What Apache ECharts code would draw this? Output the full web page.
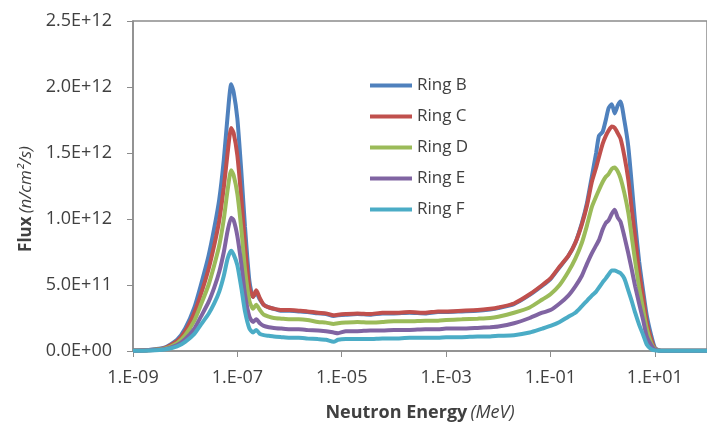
<!DOCTYPE html>
<html>
<head>
<meta charset="utf-8">
<script src="https://cdn.jsdelivr.net/npm/echarts@6/dist/echarts.min.js"></script>
<style>
html,body{margin:0;padding:0;background:#fff;}
#chart{width:707px;height:428px;}
</style>
</head>
<body>
<div id="chart"></div>
<script>
// Neutron energy (MeV)
const energies = [
  1e-9, 2e-9, 4e-9, 7e-9, 1e-8, 1.5e-8, 2e-8, 2.8e-8, 3.6e-8, 4.5e-8,
  5.5e-8, 6.5e-8, 7.6e-8, 8.5e-8, 1e-7, 1.2e-7, 1.4e-7, 1.7e-7, 2e-7, 2.3e-7,
  2.7e-7, 3.2e-7, 4e-7, 5e-7, 7e-7, 1e-6, 1.5e-6, 2.2e-6, 3.5e-6, 5e-6,
  7e-6, 8.5e-6, 1.2e-5, 2e-5, 3.5e-5, 6e-5, 1e-4, 2e-4, 4e-4, 7e-4,
  1e-3, 2e-3, 4e-3, 7e-3, 1e-2, 2e-2, 4e-2, 7e-2, 0.1, 0.15,
  0.22, 0.3, 0.4, 0.5, 0.62, 0.75, 0.85, 1.0, 1.15, 1.3,
  1.5, 1.7, 1.95, 2.2, 2.6, 3.1, 3.6, 4.2, 5, 6,
  7, 8.5, 10, 12, 15, 25, 50, 100
];
// Flux values in units of 1E+12 n/cm2/s
const ringB = [
  0.003, 0.008, 0.025, 0.085, 0.17, 0.33, 0.50, 0.72, 0.93, 1.15,
  1.45, 1.78, 2.02, 1.96, 1.76, 1.34, 0.94, 0.53, 0.41, 0.44,
  0.39, 0.35, 0.33, 0.32, 0.305, 0.305, 0.30, 0.295, 0.285, 0.28,
  0.265, 0.27, 0.275, 0.28, 0.275, 0.285, 0.285, 0.29, 0.285, 0.295,
  0.295, 0.30, 0.305, 0.315, 0.325, 0.355, 0.425, 0.495, 0.545, 0.635,
  0.72, 0.82, 0.97, 1.12, 1.32, 1.50, 1.63, 1.66, 1.75, 1.84,
  1.87, 1.80, 1.86, 1.89, 1.75, 1.55, 1.27, 0.97, 0.68, 0.45,
  0.27, 0.12, 0.025, 0.005, 0.002, 0.001, 0.001, 0.001
];
const ringC = [
  0.003, 0.007, 0.022, 0.075, 0.15, 0.29, 0.43, 0.62, 0.80, 0.99,
  1.24, 1.50, 1.69, 1.65, 1.48, 1.14, 0.80, 0.48, 0.41, 0.46,
  0.40, 0.35, 0.33, 0.32, 0.31, 0.31, 0.305, 0.30, 0.29, 0.285,
  0.27, 0.275, 0.28, 0.285, 0.28, 0.29, 0.29, 0.295, 0.29, 0.30,
  0.30, 0.305, 0.31, 0.32, 0.33, 0.36, 0.43, 0.50, 0.55, 0.64,
  0.72, 0.82, 0.96, 1.10, 1.28, 1.39, 1.47, 1.57, 1.63, 1.67,
  1.70, 1.69, 1.65, 1.61, 1.48, 1.30, 1.08, 0.86, 0.60, 0.40,
  0.22, 0.09, 0.02, 0.005, 0.002, 0.001, 0.001, 0.001
];
const ringD = [
  0.002, 0.006, 0.018, 0.06, 0.12, 0.23, 0.35, 0.50, 0.65, 0.80,
  1.00, 1.22, 1.37, 1.33, 1.19, 0.91, 0.62, 0.38, 0.32, 0.35,
  0.31, 0.275, 0.26, 0.25, 0.245, 0.24, 0.24, 0.235, 0.22, 0.215,
  0.205, 0.21, 0.215, 0.22, 0.215, 0.22, 0.225, 0.225, 0.23, 0.23,
  0.235, 0.24, 0.245, 0.25, 0.26, 0.29, 0.33, 0.39, 0.43, 0.50,
  0.60, 0.70, 0.82, 0.95, 1.09, 1.17, 1.22, 1.28, 1.32, 1.34,
  1.38, 1.39, 1.36, 1.31, 1.20, 1.05, 0.87, 0.68, 0.48, 0.31,
  0.17, 0.06, 0.015, 0.004, 0.002, 0.001, 0.001, 0.001
];
const ringE = [
  0.002, 0.005, 0.014, 0.045, 0.09, 0.17, 0.26, 0.37, 0.48, 0.60,
  0.75, 0.91, 1.01, 0.99, 0.87, 0.65, 0.43, 0.26, 0.22, 0.24,
  0.21, 0.19, 0.18, 0.175, 0.17, 0.165, 0.165, 0.16, 0.155, 0.15,
  0.14, 0.135, 0.15, 0.15, 0.155, 0.155, 0.16, 0.16, 0.165, 0.165,
  0.17, 0.17, 0.175, 0.18, 0.185, 0.21, 0.25, 0.29, 0.31, 0.36,
  0.42, 0.49, 0.57, 0.66, 0.74, 0.80, 0.84, 0.92, 0.97, 0.99,
  1.04, 1.07, 1.01, 0.98, 0.87, 0.74, 0.62, 0.49, 0.36, 0.23,
  0.11, 0.045, 0.01, 0.003, 0.001, 0.001, 0.001, 0.001
];
const ringF = [
  0.001, 0.004, 0.011, 0.035, 0.07, 0.13, 0.20, 0.28, 0.36, 0.45,
  0.57, 0.70, 0.76, 0.73, 0.65, 0.47, 0.30, 0.17, 0.14, 0.16,
  0.13, 0.12, 0.115, 0.11, 0.105, 0.10, 0.10, 0.095, 0.09, 0.085,
  0.07, 0.085, 0.09, 0.09, 0.09, 0.095, 0.095, 0.10, 0.10, 0.10,
  0.105, 0.105, 0.11, 0.11, 0.115, 0.12, 0.14, 0.17, 0.19, 0.22,
  0.26, 0.29, 0.34, 0.38, 0.42, 0.45, 0.48, 0.52, 0.55, 0.58,
  0.61, 0.61, 0.60, 0.59, 0.55, 0.46, 0.38, 0.29, 0.20, 0.12,
  0.05, 0.015, 0.005, 0.002, 0.001, 0.001, 0.001, 0.001
];
const seriesNames = ['Ring B', 'Ring C', 'Ring D', 'Ring E', 'Ring F'];
const seriesValues = [ringB, ringC, ringD, ringE, ringF];
const colors = ['#4F81BD', '#C0504D', '#9BBB59', '#8064A2', '#4BACC6'];

const FONT = '"Open Sans", sans-serif';
const TXT = '#404040';
const AXIS = '#8c8c8c';

function pad2(n) { return (n < 10 ? '0' : '') + n; }
function fmtY(v) {
  if (v === 0) return '0.0E+00';
  const val = v * 1e12;
  const ex = Math.floor(Math.log10(val) + 1e-9);
  const m = val / Math.pow(10, ex);
  return m.toFixed(1) + 'E' + (ex < 0 ? '-' : '+') + pad2(Math.abs(ex));
}
function fmtX(v) {
  const ex = Math.round(Math.log10(v));
  if (ex > 1) return '';
  return '1.E' + (ex < 0 ? '-' : '+') + pad2(Math.abs(ex));
}

const chart = echarts.init(document.getElementById('chart'), null, {renderer: 'canvas'});
chart.setOption({
  animation: false,
  backgroundColor: '#fff',
  color: colors,
  textStyle: {fontFamily: FONT},
  grid: {
    left: 133, top: 21, right: -10, bottom: 77,
    show: true, borderColor: AXIS, borderWidth: 1.5, backgroundColor: 'transparent'
  },
  legend: {
    orient: 'vertical',
    left: 370, top: 76, padding: 0,
    icon: 'rect',
    itemWidth: 42, itemHeight: 4,
    itemGap: 12,
    textStyle: {fontFamily: FONT, fontSize: 17, color: TXT, lineHeight: 19},
    data: seriesNames
  },
  xAxis: {
    type: 'log', logBase: 10,
    min: 1e-9, max: 100, interval: 2,
    name: '{b|Neutron Energy} {i|(MeV)}',
    nameLocation: 'middle', nameGap: 53,
    nameTextStyle: {
      rich: {
        b: {fontFamily: FONT, fontSize: 18, fontWeight: 'bold', color: TXT},
        i: {fontFamily: FONT, fontSize: 18, fontStyle: 'italic', color: TXT}
      }
    },
    axisLine: {lineStyle: {color: AXIS, width: 1.5}},
    axisTick: {show: true, inside: false, length: 6, lineStyle: {color: AXIS, width: 1}},
    axisLabel: {formatter: fmtX, fontFamily: FONT, fontSize: 18, color: TXT, margin: 18, showMaxLabel: false},
    splitLine: {show: false},
    minorTick: {show: false}
  },
  yAxis: {
    type: 'value',
    min: 0, max: 2.5, interval: 0.5,
    name: '{b|Flux} {i|(n/cm²/s)}',
    nameLocation: 'middle', nameGap: 96, nameRotate: 90,
    nameTextStyle: {
      padding: [0, 26, 0, 0],
      rich: {
        b: {fontFamily: FONT, fontSize: 17, fontWeight: 'bold', color: TXT},
        i: {fontFamily: FONT, fontSize: 17, fontStyle: 'italic', color: TXT}
      }
    },
    axisLine: {show: true, lineStyle: {color: AXIS, width: 1.5}},
    axisTick: {show: true, inside: false, length: 6, lineStyle: {color: AXIS, width: 1}},
    axisLabel: {formatter: fmtY, fontFamily: FONT, fontSize: 18, color: TXT, margin: 21},
    splitLine: {show: false}
  },
  series: seriesNames.map((name, k) => ({
    name: name,
    type: 'line',
    showSymbol: false,
    smooth: 0.2,
    lineStyle: {width: 4, color: colors[k]},
    itemStyle: {color: colors[k]},
    data: energies.map((e, i) => [e, seriesValues[k][i]])
  }))
});
</script>
</body>
</html>
